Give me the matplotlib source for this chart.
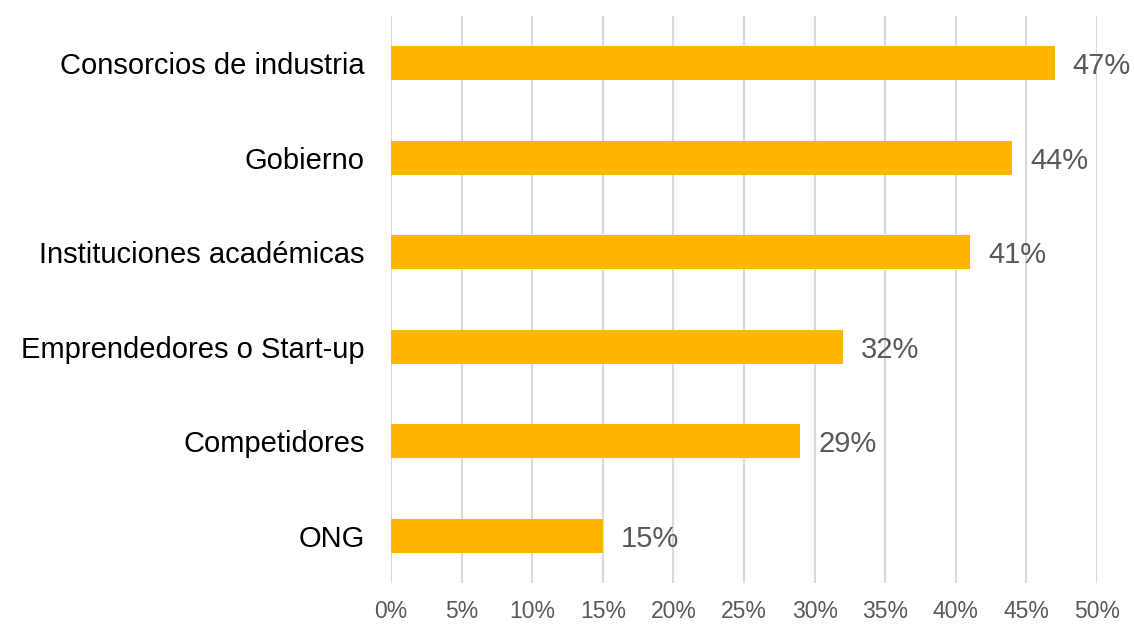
import matplotlib
matplotlib.use("Agg")
import matplotlib.pyplot as plt
from matplotlib.ticker import FuncFormatter

categories = ["Consorcios de industria", "Gobierno", "Instituciones académicas",
              "Emprendedores o Start-up", "Competidores", "ONG"]
values = [47, 44, 41, 32, 29, 15]
x_ticks = [0, 5, 10, 15, 20, 25, 30, 35, 40, 45, 50]

plt.rcParams["font.family"] = ["Liberation Sans", "DejaVu Sans"]

fig = plt.figure(figsize=(11.34, 6.24), dpi=100)
ax = fig.add_axes([391 / 1134, 1 - 583 / 624, (1097 - 391) / 1134, (583 - 16) / 624])

ypos = list(range(len(categories)))
ax.barh(ypos, values, height=0.36, color="#FFB600", zorder=3)
ax.set_ylim(len(categories) - 0.5, -0.5)
ax.set_xlim(0, 50)
ax.set_yticks(ypos)
ax.set_yticklabels(categories, fontsize=21, color="black")
ax.set_xticks(x_ticks)
ax.xaxis.set_major_formatter(FuncFormatter(lambda v, p: f"{v:.0f}%"))
ax.tick_params(axis="x", labelsize=16.5, labelcolor="#595959", length=0, pad=12)
ax.tick_params(axis="y", length=0, pad=19)
ax.grid(axis="x", color="#D9D9D9", linewidth=1.5, zorder=0)
for s in ax.spines.values():
    s.set_visible(False)

for y, v in zip(ypos, values):
    ax.annotate(f"{v}%", (v, y), xytext=(18, 0), textcoords="offset pixels",
                va="center_baseline", ha="left", fontsize=21, color="#595959")

fig.savefig("out.png", dpi=100)
